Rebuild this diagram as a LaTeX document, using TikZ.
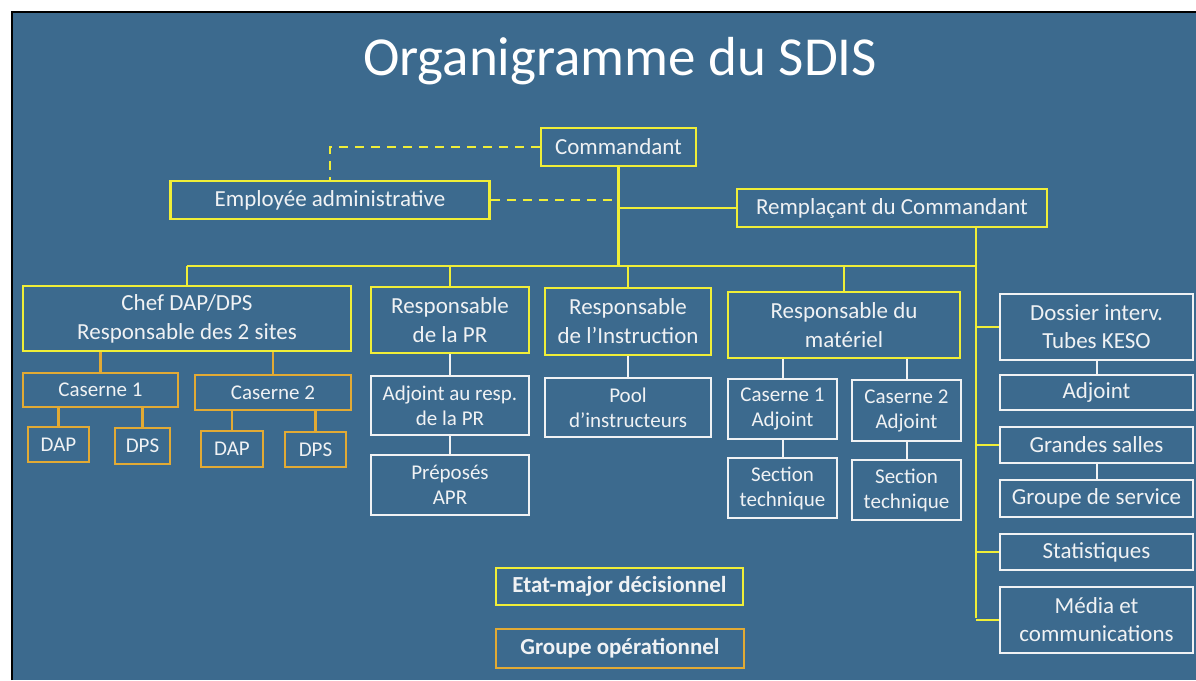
\documentclass[tikz,border=0pt]{standalone}
\usepackage{fontspec}
\setmainfont{Carlito}
\definecolor{bgblue}{RGB}{60,106,142}
\definecolor{lineyellow}{RGB}{240,238,56}
\definecolor{lineorange}{RGB}{226,170,52}
\definecolor{boxwhite}{RGB}{240,242,244}
\tikzset{
  yellowbox/.style={draw=lineyellow, line width=2.6pt, inner sep=0pt, align=center, text=boxwhite, font=\fontsize{23}{29}\selectfont},
  orangebox/.style={draw=lineorange, line width=2.4pt, inner sep=0pt, align=center, text=boxwhite, font=\fontsize{21}{25}\selectfont},
  whitebox/.style={draw=boxwhite, line width=2.2pt, inner sep=0pt, align=center, text=boxwhite, font=\fontsize{21}{25}\selectfont},
  sidebox/.style={whitebox, minimum width=193, font=\fontsize{23}{28}\selectfont},
  legendfont/.style={font=\bfseries\fontsize{23}{27}\selectfont},
  yline/.style={draw=lineyellow, line width=2.4pt},
  oline/.style={draw=lineorange, line width=2.2pt},
  wline/.style={draw=boxwhite, line width=2pt},
}
\begin{document}
\begin{tikzpicture}[x=1pt,y=-1pt]
\useasboundingbox (0,0) rectangle (1196,680);
\fill[white] (0,0) rectangle (1196,680);
\fill[bgblue] (12,12) rectangle (1196,680);
\draw[black, line width=2pt] (12,680) -- (12,12) -- (1196,12);

\node[anchor=base, text=white, font=\fontsize{55}{60}\selectfont] (title) at (620,75) {Organigramme du SDIS};

% top level
\node[yellowbox, minimum width=155, minimum height=38] (cmd) at (618.5,147) {Commandant};
\node[yellowbox, minimum width=319, minimum height=38] (empl) at (330,200) {Employée administrative};
\node[yellowbox, minimum width=310, minimum height=38] (rempl) at (892,208) {Remplaçant du Commandant};

% second level
\node[yellowbox, minimum width=328, minimum height=65] (chef) at (187,318.5) {Chef DAP/DPS\\Responsable des 2 sites};
\node[yellowbox, minimum width=158, minimum height=66] (pr) at (450,320) {Responsable\\de la PR};
\node[yellowbox, minimum width=166, minimum height=67] (instr) at (628,321.5) {Responsable\\de l’Instruction};
\node[yellowbox, minimum width=232, minimum height=66] (mat) at (844,325) {Responsable du\\matériel};

% casernes
\node[orangebox, minimum width=155, minimum height=34] (cas1) at (100.5,390) {Caserne 1};
\node[orangebox, minimum width=156, minimum height=35] (cas2) at (273,392.5) {Caserne 2};
\node[orangebox, minimum width=61, minimum height=35] (dap1) at (58.5,444.5) {DAP};
\node[orangebox, minimum width=55, minimum height=36] (dps1) at (142.5,446) {DPS};
\node[orangebox, minimum width=62, minimum height=36] (dap2) at (232,449) {DAP};
\node[orangebox, minimum width=61, minimum height=35] (dps2) at (315.5,449.5) {DPS};

% white boxes
\node[whitebox, minimum width=158, minimum height=59] (adjpr) at (450,405.5) {Adjoint au resp.\\de la PR};
\node[whitebox, minimum width=158, minimum height=60] (prep) at (450,485) {Préposés\\APR};
\node[whitebox, minimum width=166, minimum height=59] (pool) at (628,407.5) {Pool\\d’instructeurs};
\node[whitebox, minimum width=109, minimum height=60] (cadj1) at (782.5,409) {Caserne 1\\Adjoint};
\node[whitebox, minimum width=109, minimum height=61] (cadj2) at (906.5,410.5) {Caserne 2\\Adjoint};
\node[whitebox, minimum width=109, minimum height=60] (sect1) at (782.5,488) {Section\\technique};
\node[whitebox, minimum width=109, minimum height=60] (sect2) at (906.5,490) {Section\\technique};

% right column
\node[sidebox, minimum height=66] (dossier) at (1096.5,327) {Dossier interv.\\Tubes KESO};
\node[sidebox, minimum height=35] (adj) at (1096.5,392.5) {Adjoint};
\node[sidebox, minimum height=36] (salles) at (1096.5,445) {Grandes salles};
\node[sidebox, minimum height=37] (groupe) at (1096.5,498.5) {Groupe de service};
\node[sidebox, minimum height=36] (stats) at (1096.5,552) {Statistiques};
\node[sidebox, minimum height=66] (media) at (1096.5,620) {Média et\\communications};

% legend
\node[yellowbox, legendfont, minimum width=247, minimum height=37] (etat) at (619.5,586.5) {Etat-major décisionnel};
\node[orangebox, legendfont, minimum width=248, minimum height=39] (oper) at (620,648.5) {Groupe opérationnel};

% connectors
\coordinate (busW) at (187,266);
\coordinate (railS) at (976,618);
\draw[yline, dashed, dash pattern=on 9pt off 7pt] (cmd.west) -| (empl.north);
\draw[yline, dashed, dash pattern=on 9pt off 7pt] (empl.east) -- (empl.east -| cmd.south);
\draw[yline] (cmd.south |- rempl.west) -- (rempl.west);
\draw[yline] (cmd.south) -- (cmd.south |- busW);
\draw[yline] (busW) -- (busW -| railS);
\foreach \n in {chef,pr,instr,mat} \draw[yline] (\n.north) -- (\n.north |- busW);
\draw[yline] (rempl.south -| railS) -- (railS);
\foreach \n in {dossier,salles,stats,media} \draw[yline] (\n.west) -- (\n.west -| railS);

\foreach \n in {cas1,cas2} \draw[oline] (\n.north) -- (\n.north |- chef.south);
\foreach \n in {dap1,dps1} \draw[oline] (\n.north) -- (\n.north |- cas1.south);
\foreach \n in {dap2,dps2} \draw[oline] (\n.north) -- (\n.north |- cas2.south);

\draw[wline] (pr) -- (adjpr);
\draw[wline] (adjpr) -- (prep);
\draw[wline] (instr) -- (pool);
\foreach \n in {cadj1,cadj2} \draw[wline] (\n.north) -- (\n.north |- mat.south);
\draw[wline] (cadj1) -- (sect1);
\draw[wline] (cadj2) -- (sect2);
\draw[wline] (dossier) -- (adj);
\draw[wline] (salles) -- (groupe);
\end{tikzpicture}
\end{document}
